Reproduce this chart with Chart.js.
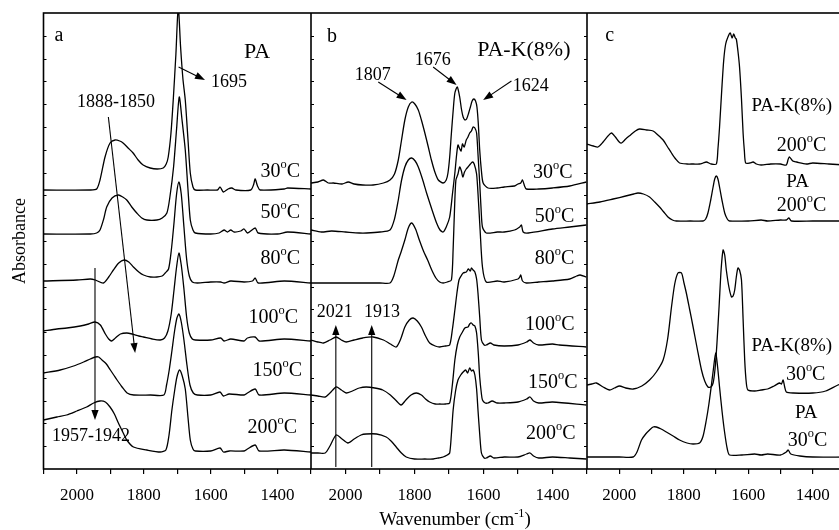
<!DOCTYPE html>
<html>
<head>
<meta charset="utf-8">
<script src="https://cdn.jsdelivr.net/npm/chart.js@4"></script>
<style>
  html, body { margin: 0; padding: 0; background: #fff; overflow: hidden; }
  #page { position: relative; width: 839px; height: 530px; overflow: hidden; }
  canvas { position: absolute; top: 0; }
</style>
</head>
<body>
<div id="page">
  <canvas id="panel-a" width="311" height="530" style="left:0px"></canvas>
  <canvas id="panel-b" width="276" height="530" style="left:311px"></canvas>
  <canvas id="panel-c" width="258" height="530" style="left:587px"></canvas>
</div>
<script>
// wavenumber axis (reversed) and absorbance range, shared by all panels
const WN_MIN = 1300;
const WN_MAX = 2100;
const ABS_MIN = 0;
const ABS_MAX = 4.56;

// ---- panel a: PA, [wavenumber, absorbance (offset)] ----
const A30 = [[2100,2.79],[1960,2.79],[1941,2.80],[1931,2.89],[1916,3.12],[1901,3.26],[1886,3.29],[1872,3.28],[1862,3.26],[1847,3.21],[1832,3.16],[1817,3.09],[1802,3.04],[1781,3.01],[1760,3.00],[1742,3.01],[1733,3.05],[1727,3.12],[1719,3.35],[1712,3.69],[1704,4.15],[1697,4.62],[1690,4.22],[1683,3.90],[1676,3.69],[1668,3.30],[1661,2.96],[1653,2.82],[1646,2.79],[1610,2.79],[1580,2.79],[1572,2.82],[1562,2.77],[1548,2.80],[1537,2.81],[1525,2.79],[1480,2.79],[1472,2.84],[1467,2.90],[1460,2.83],[1452,2.79],[1380,2.80],[1370,2.81],[1300,2.80]];
const A50 = [[2100,2.35],[1960,2.35],[1941,2.36],[1931,2.39],[1920,2.50],[1911,2.62],[1895,2.71],[1876,2.74],[1863,2.72],[1851,2.69],[1836,2.62],[1821,2.56],[1806,2.51],[1791,2.49],[1761,2.49],[1745,2.51],[1731,2.56],[1722,2.72],[1711,3.02],[1702,3.40],[1694,3.72],[1686,3.50],[1676,3.19],[1668,2.80],[1661,2.49],[1653,2.39],[1646,2.36],[1600,2.35],[1575,2.36],[1560,2.39],[1550,2.37],[1540,2.39],[1530,2.37],[1510,2.38],[1500,2.40],[1490,2.36],[1467,2.41],[1458,2.36],[1400,2.35],[1370,2.37],[1300,2.35]];
const A80 = [[2100,1.88],[2000,1.89],[1960,1.90],[1945,1.89],[1921,1.86],[1905,1.92],[1891,1.99],[1875,2.06],[1859,2.09],[1845,2.07],[1831,2.02],[1815,1.97],[1801,1.94],[1780,1.92],[1761,1.92],[1745,1.93],[1736,1.96],[1726,2.00],[1718,2.18],[1710,2.45],[1702,2.75],[1695,2.87],[1688,2.75],[1680,2.42],[1672,2.10],[1664,1.93],[1655,1.87],[1640,1.86],[1600,1.87],[1570,1.87],[1560,1.86],[1540,1.88],[1500,1.87],[1475,1.88],[1467,1.91],[1458,1.86],[1380,1.88],[1300,1.86]];
const A100 = [[2100,1.38],[2060,1.40],[2030,1.41],[1990,1.43],[1965,1.45],[1946,1.47],[1930,1.44],[1915,1.35],[1905,1.30],[1896,1.28],[1885,1.31],[1870,1.35],[1851,1.36],[1835,1.35],[1815,1.33],[1801,1.32],[1775,1.30],[1751,1.29],[1738,1.31],[1728,1.38],[1718,1.55],[1710,1.78],[1702,2.02],[1695,2.16],[1688,2.04],[1680,1.80],[1672,1.52],[1664,1.36],[1655,1.30],[1646,1.29],[1600,1.29],[1570,1.31],[1560,1.28],[1540,1.30],[1500,1.28],[1490,1.31],[1467,1.32],[1455,1.28],[1380,1.30],[1300,1.28]];
const A150 = [[2100,0.96],[2050,0.99],[2010,1.03],[1980,1.07],[1960,1.10],[1945,1.12],[1935,1.12],[1925,1.09],[1912,1.05],[1900,0.99],[1890,0.94],[1880,0.89],[1865,0.82],[1850,0.76],[1830,0.74],[1780,0.74],[1740,0.74],[1732,0.84],[1724,0.99],[1716,1.18],[1708,1.38],[1701,1.51],[1695,1.55],[1688,1.47],[1680,1.29],[1671,1.04],[1662,0.84],[1652,0.76],[1640,0.74],[1600,0.74],[1572,0.77],[1562,0.73],[1545,0.75],[1500,0.74],[1490,0.76],[1467,0.80],[1455,0.74],[1380,0.76],[1300,0.74]];
const A200 = [[2100,0.49],[2060,0.52],[2031,0.54],[2000,0.58],[1971,0.62],[1950,0.66],[1931,0.68],[1915,0.67],[1901,0.62],[1888,0.55],[1876,0.46],[1863,0.37],[1851,0.29],[1831,0.22],[1791,0.19],[1751,0.17],[1734,0.19],[1725,0.33],[1716,0.59],[1708,0.78],[1701,0.92],[1693,0.99],[1685,0.93],[1676,0.80],[1668,0.52],[1661,0.29],[1653,0.20],[1646,0.18],[1600,0.18],[1572,0.21],[1562,0.17],[1545,0.18],[1500,0.18],[1490,0.20],[1467,0.24],[1455,0.18],[1380,0.19],[1300,0.17]];

// ---- panel b: PA-K(8%) ----
const B30 = [[2100,2.86],[2080,2.87],[2064,2.89],[2050,2.86],[2035,2.86],[2010,2.85],[1992,2.87],[1975,2.85],[1950,2.84],[1920,2.84],[1890,2.86],[1871,2.89],[1858,2.95],[1847,3.09],[1838,3.28],[1828,3.49],[1818,3.62],[1808,3.67],[1799,3.65],[1789,3.59],[1780,3.49],[1770,3.36],[1760,3.22],[1751,3.09],[1741,2.97],[1731,2.89],[1717,2.86],[1708,2.89],[1703,2.96],[1698,3.12],[1693,3.36],[1688,3.58],[1683,3.76],[1676,3.82],[1669,3.72],[1664,3.60],[1659,3.52],[1654,3.49],[1649,3.50],[1643,3.56],[1638,3.62],[1633,3.68],[1628,3.70],[1623,3.68],[1619,3.62],[1615,3.45],[1611,3.19],[1606,2.98],[1601,2.86],[1587,2.81],[1560,2.81],[1540,2.82],[1510,2.83],[1500,2.85],[1492,2.86],[1487,2.89],[1481,2.83],[1476,2.80],[1440,2.80],[1400,2.81],[1350,2.83],[1302,2.87]];
const B50 = [[2100,2.39],[2070,2.37],[2040,2.38],[2000,2.37],[1960,2.36],[1939,2.36],[1900,2.37],[1871,2.39],[1858,2.50],[1847,2.69],[1838,2.88],[1828,3.02],[1818,3.09],[1808,3.11],[1798,3.08],[1789,3.02],[1777,2.90],[1765,2.76],[1750,2.60],[1736,2.46],[1726,2.39],[1717,2.37],[1708,2.42],[1698,2.52],[1690,2.75],[1683,2.96],[1678,3.14],[1674,3.24],[1670,3.21],[1665,3.18],[1661,3.25],[1656,3.22],[1650,3.29],[1645,3.32],[1640,3.36],[1635,3.38],[1630,3.42],[1625,3.41],[1620,3.36],[1616,3.15],[1611,2.86],[1607,2.60],[1603,2.42],[1592,2.36],[1560,2.37],[1540,2.37],[1510,2.39],[1495,2.42],[1490,2.44],[1485,2.37],[1470,2.36],[1400,2.40],[1350,2.42],[1302,2.44]];
const B80 = [[2100,1.86],[2000,1.86],[1900,1.86],[1871,1.86],[1860,1.93],[1847,2.09],[1838,2.18],[1828,2.29],[1818,2.41],[1808,2.46],[1797,2.40],[1786,2.29],[1774,2.18],[1762,2.09],[1750,1.99],[1738,1.91],[1727,1.87],[1717,1.86],[1705,1.87],[1693,1.89],[1688,2.20],[1684,2.60],[1680,2.89],[1674,2.95],[1669,3.02],[1664,2.98],[1660,2.92],[1655,2.97],[1650,3.00],[1645,3.02],[1638,3.05],[1632,3.07],[1627,3.05],[1620,2.95],[1615,2.70],[1610,2.40],[1603,2.02],[1592,1.87],[1560,1.88],[1540,1.87],[1500,1.90],[1495,1.92],[1492,1.94],[1487,1.88],[1476,1.86],[1440,1.87],[1400,1.88],[1350,1.90],[1330,1.93],[1320,1.94],[1302,1.92]];
const B100 = [[2100,1.29],[2080,1.27],[2064,1.26],[2045,1.29],[2027,1.32],[2012,1.29],[1998,1.27],[1975,1.29],[1950,1.31],[1920,1.32],[1890,1.29],[1870,1.25],[1853,1.22],[1840,1.30],[1828,1.42],[1815,1.49],[1804,1.51],[1792,1.48],[1780,1.42],[1768,1.33],[1756,1.26],[1740,1.23],[1727,1.22],[1710,1.23],[1698,1.24],[1690,1.40],[1683,1.59],[1677,1.76],[1671,1.89],[1665,1.93],[1659,1.96],[1650,1.97],[1644,2.00],[1638,1.98],[1635,2.01],[1630,1.99],[1625,1.97],[1620,1.90],[1616,1.76],[1611,1.52],[1606,1.29],[1598,1.24],[1592,1.24],[1580,1.26],[1570,1.24],[1540,1.23],[1500,1.24],[1475,1.27],[1465,1.29],[1455,1.26],[1440,1.24],[1400,1.25],[1380,1.24],[1302,1.22]];
const B150 = [[2100,0.74],[2080,0.73],[2059,0.72],[2045,0.76],[2027,0.82],[2012,0.79],[1998,0.76],[1980,0.78],[1960,0.81],[1940,0.82],[1915,0.81],[1892,0.79],[1870,0.74],[1855,0.69],[1839,0.64],[1825,0.69],[1810,0.74],[1795,0.76],[1780,0.74],[1768,0.70],[1756,0.67],[1740,0.65],[1727,0.65],[1710,0.65],[1698,0.66],[1690,0.85],[1683,1.09],[1676,1.24],[1669,1.32],[1661,1.37],[1654,1.41],[1645,1.42],[1640,1.45],[1635,1.46],[1630,1.44],[1625,1.43],[1620,1.36],[1615,1.15],[1611,0.92],[1606,0.75],[1603,0.69],[1595,0.66],[1587,0.66],[1575,0.68],[1560,0.66],[1540,0.66],[1500,0.67],[1475,0.70],[1465,0.72],[1455,0.68],[1440,0.66],[1400,0.67],[1302,0.64]];
const B200 = [[2100,0.16],[2080,0.16],[2059,0.16],[2045,0.23],[2027,0.34],[2010,0.30],[1993,0.26],[1975,0.30],[1955,0.34],[1940,0.35],[1910,0.35],[1882,0.32],[1868,0.28],[1853,0.22],[1838,0.16],[1824,0.12],[1800,0.10],[1770,0.10],[1746,0.10],[1730,0.11],[1717,0.12],[1705,0.14],[1698,0.16],[1693,0.35],[1688,0.59],[1681,0.78],[1674,0.89],[1666,0.94],[1659,0.97],[1652,0.99],[1646,0.96],[1640,1.01],[1635,0.98],[1630,0.99],[1625,0.94],[1620,0.80],[1616,0.59],[1611,0.35],[1606,0.16],[1598,0.11],[1592,0.11],[1580,0.13],[1570,0.11],[1540,0.12],[1500,0.12],[1475,0.15],[1465,0.16],[1455,0.13],[1440,0.11],[1400,0.12],[1350,0.11],[1302,0.10]];

// ---- panel c: PA vs PA-K(8%) at 200 and 30 degC ----
const C_PAK200 = [[2100,3.25],[2080,3.23],[2066,3.22],[2050,3.27],[2035,3.33],[2024,3.36],[2012,3.32],[2000,3.27],[1993,3.26],[1980,3.30],[1965,3.34],[1950,3.38],[1937,3.40],[1915,3.39],[1895,3.38],[1880,3.34],[1864,3.29],[1850,3.22],[1838,3.16],[1825,3.10],[1813,3.06],[1790,3.05],[1770,3.05],[1751,3.05],[1740,3.06],[1730,3.07],[1715,3.05],[1699,3.05],[1694,3.20],[1689,3.42],[1682,3.80],[1676,4.09],[1670,4.25],[1663,4.32],[1656,4.36],[1650,4.31],[1645,4.35],[1640,4.31],[1637,4.30],[1632,4.18],[1627,4.02],[1621,3.70],[1616,3.36],[1612,3.18],[1608,3.06],[1595,3.06],[1585,3.07],[1575,3.05],[1560,3.04],[1530,3.05],[1500,3.05],[1482,3.04],[1476,3.10],[1472,3.12],[1462,3.08],[1450,3.07],[1420,3.05],[1400,3.06],[1350,3.05],[1300,3.04]];
const C_PA200 = [[2100,2.65],[2060,2.67],[2019,2.70],[1980,2.73],[1955,2.75],[1942,2.76],[1925,2.75],[1906,2.72],[1890,2.67],[1875,2.62],[1862,2.57],[1849,2.52],[1835,2.49],[1823,2.48],[1780,2.48],[1740,2.48],[1732,2.50],[1725,2.56],[1717,2.68],[1709,2.82],[1704,2.90],[1699,2.93],[1694,2.90],[1689,2.82],[1681,2.68],[1673,2.56],[1665,2.50],[1658,2.48],[1600,2.48],[1560,2.49],[1540,2.48],[1500,2.49],[1482,2.49],[1474,2.51],[1466,2.48],[1400,2.48],[1300,2.48]];
const C_PAK30 = [[2100,0.84],[2085,0.85],[2071,0.86],[2050,0.82],[2030,0.79],[2015,0.81],[1999,0.83],[1980,0.81],[1957,0.80],[1930,0.83],[1906,0.89],[1885,0.97],[1864,1.09],[1850,1.30],[1838,1.62],[1828,1.85],[1818,1.96],[1807,1.96],[1800,1.87],[1792,1.76],[1782,1.60],[1771,1.42],[1758,1.20],[1745,0.99],[1735,0.88],[1725,0.82],[1716,0.82],[1709,0.86],[1703,1.00],[1697,1.26],[1690,1.65],[1684,2.00],[1678,2.19],[1673,2.14],[1668,1.99],[1660,1.82],[1652,1.72],[1647,1.73],[1642,1.79],[1637,1.92],[1632,2.01],[1627,1.99],[1621,1.89],[1616,1.50],[1611,1.09],[1606,0.86],[1601,0.79],[1580,0.78],[1560,0.79],[1540,0.80],[1520,0.83],[1503,0.86],[1497,0.85],[1492,0.89],[1487,0.82],[1482,0.77],[1460,0.76],[1400,0.76],[1360,0.78],[1322,0.84],[1300,0.86]];
const C_PA30 = [[2100,0.12],[2000,0.12],[1957,0.12],[1945,0.17],[1931,0.29],[1918,0.35],[1906,0.39],[1895,0.42],[1885,0.42],[1870,0.40],[1854,0.37],[1833,0.33],[1813,0.29],[1790,0.26],[1771,0.25],[1751,0.26],[1740,0.33],[1730,0.49],[1722,0.65],[1715,0.82],[1708,1.00],[1701,1.16],[1695,1.02],[1689,0.82],[1681,0.57],[1673,0.36],[1665,0.20],[1658,0.14],[1620,0.14],[1580,0.15],[1560,0.14],[1540,0.15],[1500,0.14],[1482,0.17],[1476,0.19],[1468,0.15],[1440,0.13],[1400,0.12],[1300,0.12]];

// ---- labels and arrows, placed in data units ----
const TEXT_A = [
  { t: "a", wn: 2054, y: 4.33, size: 20 },
  { t: "PA", wn: 1461, y: 4.17, size: 22 },
  { t: "1695", wn: 1545, y: 3.87, size: 18 },
  { t: "1888-1850", wn: 1883, y: 3.67, size: 18 },
  { t: "1957-1942", wn: 1958, y: 0.33, size: 18 },
];
const TEMP_A = [["30", 1392, 2.97], ["50", 1392, 2.56], ["80", 1392, 2.10], ["100", 1413, 1.51], ["150", 1401, 0.98], ["200", 1416, 0.41]];
const ARROW_A = [[1696, 4.02, 1617, 3.89], [1906, 3.52, 1826, 1.16], [1946, 2.01, 1946, 0.49]];

const TEXT_B = [
  { t: "b", wn: 2039, y: 4.32, size: 20 },
  { t: "PA-K(8%)", wn: 1483, y: 4.19, size: 22 },
  { t: "1807", wn: 1921, y: 3.94, size: 18 },
  { t: "1676", wn: 1747, y: 4.09, size: 18 },
  { t: "1624", wn: 1463, y: 3.83, size: 18 },
  { t: "2021", wn: 2031, y: 1.565, size: 18 },
  { t: "1913", wn: 1894, y: 1.565, size: 18 },
];
const TEMP_B = [["30", 1399, 2.96], ["50", 1394, 2.52], ["80", 1394, 2.10], ["100", 1408, 1.44], ["150", 1399, 0.86], ["200", 1405, 0.35]];
const ARROW_B = [[1905, 3.87, 1823, 3.69], [1746, 4.02, 1678, 3.84], [1519, 3.88, 1601, 3.69], [2028, 0.02, 2028, 1.44], [1924, 0.02, 1924, 1.44]];

const TEXT_C = [
  { t: "c", wn: 2030, y: 4.33, size: 20 },
  { t: "PA-K(8%)", wn: 1465, y: 3.63, size: 19 },
  { t: "PA", wn: 1447, y: 2.87, size: 19 },
  { t: "PA-K(8%)", wn: 1465, y: 1.23, size: 19 },
  { t: "PA", wn: 1420, y: 0.56, size: 19 },
];
const TEMP_C = [["200", 1435, 3.23], ["200", 1435, 2.63], ["30", 1422, 0.94], ["30", 1416, 0.28]];

const FONT = "'Liberation Serif', 'Times New Roman', serif";
const INK = "#000";

function drawTemp(ctx, x, y, num, size) {
  // number + raised small "o" + C
  ctx.font = `${size}px ${FONT}`;
  const wNum = ctx.measureText(num).width;
  const wC = ctx.measureText("C").width;
  ctx.font = `${size * 0.62}px ${FONT}`;
  const wO = ctx.measureText("o").width;
  const left = x - (wNum + wO + wC) / 2;
  ctx.textAlign = "left";
  ctx.textBaseline = "middle";
  ctx.font = `${size}px ${FONT}`;
  ctx.fillText(num, left, y);
  ctx.fillText("C", left + wNum + wO, y);
  ctx.font = `${size * 0.62}px ${FONT}`;
  ctx.fillText("o", left + wNum, y - size * 0.36);
}

function drawArrow(ctx, x1, y1, x2, y2) {
  const ang = Math.atan2(y2 - y1, x2 - x1);
  const len = 10, half = 3.6;
  const c = Math.cos(ang), s = Math.sin(ang);
  ctx.beginPath();
  ctx.moveTo(x1, y1);
  ctx.lineTo(x2 - len * 0.7 * c, y2 - len * 0.7 * s);
  ctx.stroke();
  ctx.beginPath();
  ctx.moveTo(x2, y2);
  ctx.lineTo(x2 - len * c - half * s, y2 - len * s + half * c);
  ctx.lineTo(x2 - len * c + half * s, y2 - len * s - half * c);
  ctx.closePath();
  ctx.fill();
}

function decorPlugin(texts, temps, arrows, extra) {
  return {
    id: "decor",
    afterDatasetsDraw(chart) {
      const { ctx, chartArea: ca, scales } = chart;
      const xs = scales.x, ys = scales.y;
      ctx.save();
      ctx.strokeStyle = INK;
      ctx.fillStyle = INK;

      // frame
      ctx.lineWidth = 1.6;
      ctx.strokeRect(ca.left, ca.top, ca.right - ca.left, ca.bottom - ca.top);

      // small inward ticks on the absorbance axis
      ctx.lineWidth = 1;
      for (let i = 1; i < 20; i++) {
        const py = Math.round(ys.getPixelForValue(ABS_MIN + (ABS_MAX - ABS_MIN) * i / 20)) + 0.5;
        if (extra.leftTicks) {
          ctx.beginPath(); ctx.moveTo(ca.left, py); ctx.lineTo(ca.left + 3, py); ctx.stroke();
        }
        if (extra.rightTicks) {
          ctx.beginPath(); ctx.moveTo(ca.right, py); ctx.lineTo(ca.right - 3, py); ctx.stroke();
        }
      }

      // arrows
      ctx.lineWidth = 1.1;
      arrows.forEach(([w1, a1, w2, a2]) => {
        drawArrow(ctx, xs.getPixelForValue(w1), ys.getPixelForValue(a1),
                       xs.getPixelForValue(w2), ys.getPixelForValue(a2));
      });

      // labels
      ctx.textAlign = "center";
      ctx.textBaseline = "middle";
      texts.forEach((n) => {
        ctx.font = `${n.size}px ${FONT}`;
        ctx.fillText(n.t, xs.getPixelForValue(n.wn), ys.getPixelForValue(n.y));
      });
      temps.forEach(([num, wn, a]) => {
        drawTemp(ctx, xs.getPixelForValue(wn), ys.getPixelForValue(a), num, 20);
      });

      // shared x-axis title, with a real superscript
      if (extra.xTitle) {
        const size = 19;
        const parts = ["Wavenumber (cm", "-1", ")"];
        ctx.font = `${size}px ${FONT}`;
        const w0 = ctx.measureText(parts[0]).width;
        const w2 = ctx.measureText(parts[2]).width;
        ctx.font = `${size * 0.65}px ${FONT}`;
        const w1 = ctx.measureText(parts[1]).width;
        const cx = (ca.left + ca.right) / 2 + 6;
        const ty = 520;
        const left = cx - (w0 + w1 + w2) / 2;
        ctx.textAlign = "left";
        ctx.font = `${size}px ${FONT}`;
        ctx.fillText(parts[0], left, ty);
        ctx.fillText(parts[2], left + w0 + w1, ty);
        ctx.font = `${size * 0.65}px ${FONT}`;
        ctx.fillText(parts[1], left + w0, ty - size * 0.35);
      }
      ctx.restore();
    },
  };
}

function spectrum(points) {
  return {
    data: points.map(([x, y]) => ({ x, y })),
    borderColor: INK,
    borderWidth: 1.3,
    pointRadius: 0,
    fill: false,
    tension: 0.25,
  };
}

function makePanel(id, series, texts, temps, arrows, extra) {
  const ctx = document.getElementById(id).getContext("2d");
  return new Chart(ctx, {
    type: "line",
    data: { datasets: series.map(spectrum) },
    options: {
      responsive: false,
      animation: false,
      events: [],
      layout: { padding: { top: 13, right: 0, bottom: 0, left: 0 } },
      plugins: { legend: { display: false }, tooltip: { enabled: false } },
      scales: {
        x: {
          type: "linear",
          reverse: true,
          min: WN_MIN,
          max: WN_MAX,
          afterFit: (s) => {
            s.height = 61;
            s.paddingLeft = 0;
            s.paddingRight = 0;
          },
          border: { display: false },
          grid: { display: true, drawOnChartArea: false, drawTicks: true, tickLength: 5, color: INK, lineWidth: 1.2 },
          ticks: {
            stepSize: 100,
            autoSkip: false,
            maxRotation: 0,
            padding: 11,
            color: INK,
            font: { family: FONT, size: 17 },
            callback: (v) => (v % 200 === 0 ? String(v) : ""),
          },
        },
        y: {
          min: ABS_MIN,
          max: ABS_MAX,
          display: !!extra.yTitle,
          afterFit: extra.yTitle ? (s) => { s.width = 43.5; } : undefined,
          border: { display: false },
          grid: { display: false },
          ticks: { display: false },
          title: {
            display: !!extra.yTitle,
            text: "Absorbance",
            color: INK,
            font: { family: FONT, size: 18 },
            padding: { top: 9, bottom: 0 },
          },
        },
      },
    },
    plugins: [decorPlugin(texts, temps, arrows, extra)],
  });
}

makePanel("panel-a", [A30, A50, A80, A100, A150, A200], TEXT_A, TEMP_A, ARROW_A,
  { yTitle: true, leftTicks: true });
makePanel("panel-b", [B30, B50, B80, B100, B150, B200], TEXT_B, TEMP_B, ARROW_B,
  { leftTicks: true, rightTicks: true, xTitle: true });
makePanel("panel-c", [C_PAK200, C_PA200, C_PAK30, C_PA30], TEXT_C, TEMP_C, [],
  {});
</script>
</body>
</html>
